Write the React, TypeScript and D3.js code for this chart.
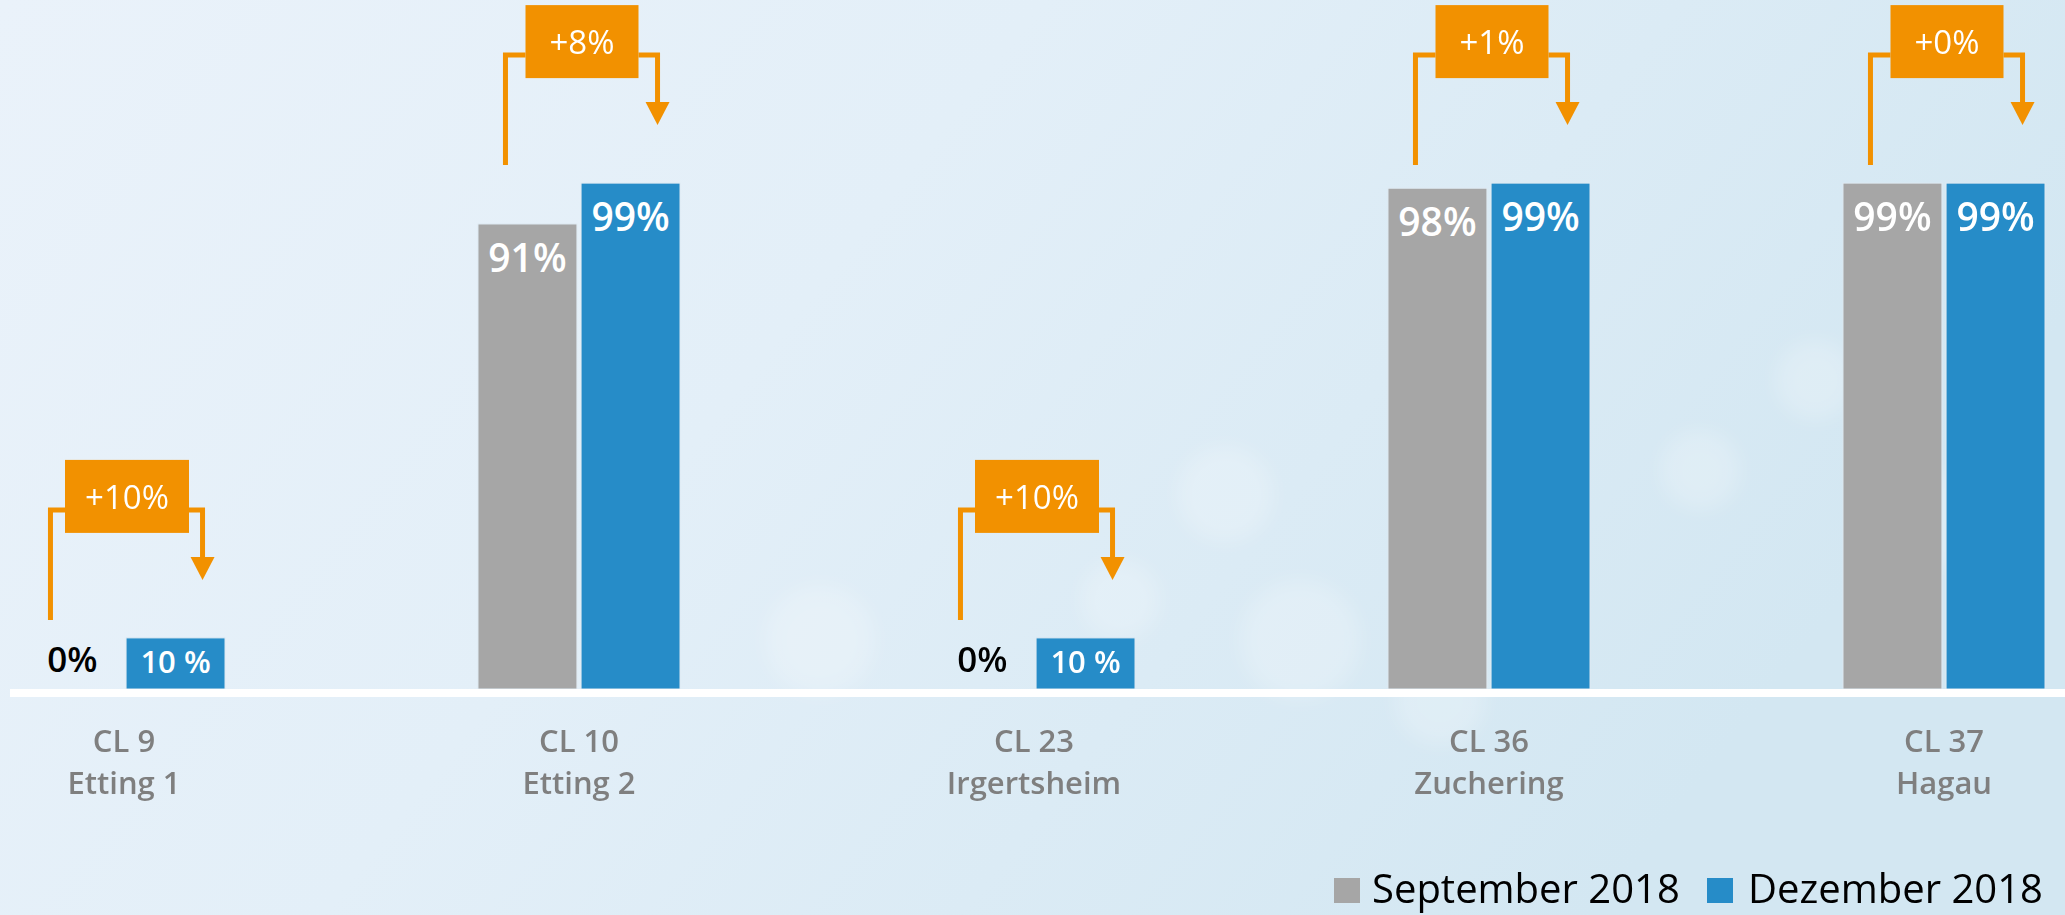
import React from 'react';
import * as d3 from 'd3';

const categories = ['CL 9', 'CL 10', 'CL 23', 'CL 36', 'CL 37'];
const sites = ['Etting 1', 'Etting 2', 'Irgertsheim', 'Zuchering', 'Hagau'];
const seriesNames = ['September 2018', 'Dezember 2018'];
const september = [0, 91, 0, 98, 99];
const dezember = [10, 99, 10, 99, 99];
const septemberLabels = ['0%', '91%', '0%', '98%', '99%'];
const dezemberLabels = ['10 %', '99%', '10 %', '99%', '99%'];
const changes = ['+10%', '+8%', '+10%', '+1%', '+0%'];

const W = 2065;
const H = 915;
const FONT = '"Open Sans", "Noto Sans", sans-serif';
const GRAY = '#a6a6a6';
const BLUE = '#268cc8';
const ORANGE = '#f29100';

// soft background blobs (bokeh look of the slide picture)
const blobs = [
  { cx: 1225, cy: 494, r: 48 },
  { cx: 1300, cy: 640, r: 60 },
  { cx: 1700, cy: 470, r: 40 },
  { cx: 1815, cy: 380, r: 40 },
  { cx: 1440, cy: 700, r: 45 },
  { cx: 820, cy: 640, r: 55 },
  { cx: 1960, cy: 520, r: 50 },
  { cx: 1120, cy: 600, r: 40 },
];

export default function App() {
  const x0 = d3.scaleBand<string>()
    .domain(categories)
    .range([-103.5, 2171.5])
    .paddingInner(0.556)
    .paddingOuter(0.278);

  const x1 = d3.scaleBand<string>()
    .domain(seriesNames)
    .range([0, x0.bandwidth()])
    .paddingInner(0.04);

  const y = d3.scaleLinear().domain([0, 100]).range([689, 178]);
  const bw = x1.bandwidth();

  const series = [
    { name: seriesNames[0], values: september, labels: septemberLabels, color: GRAY },
    { name: seriesNames[1], values: dezember, labels: dezemberLabels, color: BLUE },
  ];

  return (
    <svg width={W} height={H} style={{ position: 'absolute', left: 0, top: 0, display: 'block' }}>
      <defs>
        <linearGradient id="bg" x1="0" y1="0" x2="1" y2="0.35">
          <stop offset="0%" stopColor="#eaf2fa" />
          <stop offset="45%" stopColor="#e3eff8" />
          <stop offset="100%" stopColor="#d3e7f2" />
        </linearGradient>
        <filter id="blur" x="-50%" y="-50%" width="200%" height="200%">
          <feGaussianBlur stdDeviation="10" />
        </filter>
      </defs>
      <rect width={W} height={H} fill="url(#bg)" />
      <g filter="url(#blur)">
        {blobs.map((b, i) => (
          <circle key={i} cx={b.cx} cy={b.cy} r={b.r} fill="#ffffff" opacity={0.22} />
        ))}
      </g>

      {/* bars */}
      {categories.map((cat, i) => (
        <g key={cat} transform={`translate(${x0(cat)},0)`}>
          {series.map((s) => {
            const v = s.values[i];
            const bx = x1(s.name)!;
            if (v === 0) {
              return (
                <text key={s.name} x={bx + bw / 2} y={y(0) - 17} textAnchor="middle"
                  fontFamily={FONT} fontSize={35} fontWeight={600} fill="#000">
                  {s.labels[i]}
                </text>
              );
            }
            const small = v < 20;
            return (
              <g key={s.name}>
                <rect x={bx} y={y(v)} width={bw} height={y(0) - y(v)} fill={s.color}
                  stroke="#dfeaf2" strokeWidth={1} />
                <text x={bx + bw / 2} y={small ? y(0) - 16 : y(v) + 48} textAnchor="middle"
                  fontFamily={FONT} fontSize={small ? 31 : 39} fontWeight={600} fill="#fff">
                  {s.labels[i]}
                </text>
              </g>
            );
          })}
        </g>
      ))}

      {/* baseline */}
      <rect x={10} y={y(0)} width={W - 10} height={8} fill="#ffffff" />

      {/* category labels */}
      {categories.map((cat, i) => {
        const cx = x0(cat)! + x0.bandwidth() / 2;
        return (
          <text key={cat} textAnchor="middle" fontFamily={FONT} fontSize={31} fontWeight={600} fill="#7f7f7f">
            <tspan x={cx} y={752}>{cat}</tspan>
            <tspan x={cx} y={794}>{sites[i]}</tspan>
          </text>
        );
      })}

      {/* change annotations */}
      {categories.map((cat, i) => {
        const gx = x0(cat)!;
        const grayC = gx + x1(seriesNames[0])! + bw / 2;
        const blueC = gx + x1(seriesNames[1])! + bw / 2;
        const center = gx + x0.bandwidth() / 2 + 3;
        const top = y(Math.max(september[i], dezember[i])) - 178;
        const boxW = 80 + 11 * changes[i].length;
        const boxL = center - boxW / 2;
        const boxR = center + boxW / 2;
        const hY = top + 50;
        const leftX = grayC - 22;
        const rightX = blueC + 27;
        const tip = top + 120;
        return (
          <g key={cat}>
            <path d={`M${leftX},${top + 160}V${hY}H${boxL}`} fill="none" stroke={ORANGE} strokeWidth={5} />
            <path d={`M${boxR},${hY}H${rightX}V${tip - 20}`} fill="none" stroke={ORANGE} strokeWidth={5} />
            <path d={`M${rightX - 12},${tip - 23}L${rightX + 12},${tip - 23}L${rightX},${tip}Z`} fill={ORANGE} />
            <rect x={boxL} y={top} width={boxW} height={73} fill={ORANGE} />
            <text x={center} y={top + 49} textAnchor="middle" fontFamily={FONT} fontSize={33} fontWeight={500} fill="#fff">
              {changes[i]}
            </text>
          </g>
        );
      })}

      {/* legend */}
      <rect x={1334} y={878} width={26} height={25} fill={GRAY} />
      <text x={1372} y={903} fontFamily={FONT} fontSize={40} fill="#000">{seriesNames[0]}</text>
      <rect x={1707} y={878} width={26} height={25} fill={BLUE} />
      <text x={1748} y={903} fontFamily={FONT} fontSize={40} fill="#000">{seriesNames[1]}</text>
    </svg>
  );
}
